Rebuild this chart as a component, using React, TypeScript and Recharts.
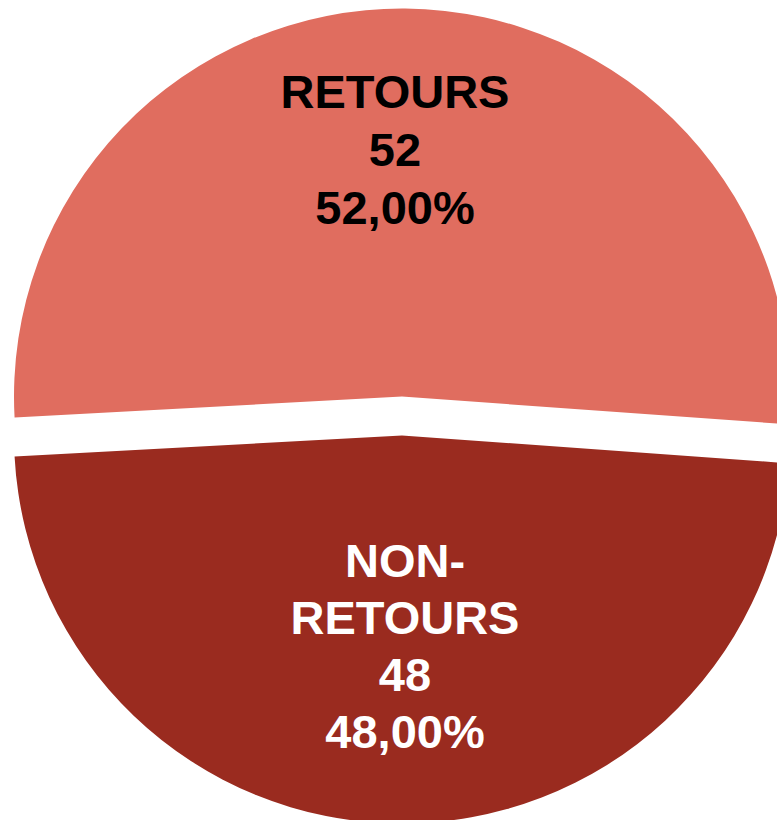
import React from 'react';
import { PieChart, Pie, Cell } from 'recharts';

const categories = ['RETOURS', 'NON-RETOURS'];
const values = [52, 48];
const sliceColors = ['#E06D5F', '#9A2B1F'];
const labelColors = ['#000000', '#FFFFFF'];

const data = categories.map((name, i) => ({ name, value: values[i] }));

const W = 777;
const H = 820;
const CX = 402;
const CY_TOP = 396.6;
const CY_BOTTOM = 435.5;
const R = 388;
const START = -4.1;

const splitName = (name: string): string[] => {
  const idx = name.indexOf('-');
  if (idx > 0 && idx < name.length - 1) return [name.slice(0, idx + 1), name.slice(idx + 1)];
  return [name];
};

const makeLabel = (visibleIndex: number) => (props: any) => {
  const { cx, cy, index, name, value, percent } = props;
  if (index !== visibleIndex) return null;
  const pct = (percent * 100).toFixed(2).replace('.', ',') + '%';
  const lines = [...splitName(String(name)), String(value), pct];
  const isTop = visibleIndex === 0;
  const x = isTop ? cx - 7 : cx + 3;
  const y0 = isTop ? cy - 289 : cy + 141;
  const step = isTop ? 58 : 57;
  return (
    <text
      x={x}
      y={y0}
      textAnchor="middle"
      fill={labelColors[visibleIndex]}
      fontFamily="'Liberation Sans', Arial, sans-serif"
      fontWeight="bold"
      fontSize={47}
    >
      {lines.map((l, i) => (
        <tspan key={i} x={x} y={y0 + i * step}>
          {l}
        </tspan>
      ))}
    </text>
  );
};

export default function App() {
  return (
    <div style={{ position: 'absolute', left: 0, top: 0, width: W, height: H, overflow: 'hidden', background: '#fff' }}>
      <PieChart width={W} height={H} margin={{ top: 0, right: 0, bottom: 0, left: 0 }}>
        <Pie
          data={data}
          dataKey="value"
          nameKey="name"
          cx={CX}
          cy={CY_TOP}
          outerRadius={R}
          innerRadius={0}
          startAngle={START}
          endAngle={START + 360}
          stroke="none"
          label={makeLabel(0)}
          labelLine={false}
          isAnimationActive={false}
        >
          {data.map((d, i) => (
            <Cell key={d.name} fill={i === 0 ? sliceColors[0] : 'transparent'} stroke="none" />
          ))}
        </Pie>
        <Pie
          data={data}
          dataKey="value"
          nameKey="name"
          cx={CX}
          cy={CY_BOTTOM}
          outerRadius={R}
          innerRadius={0}
          startAngle={START}
          endAngle={START + 360}
          stroke="none"
          label={makeLabel(1)}
          labelLine={false}
          isAnimationActive={false}
        >
          {data.map((d, i) => (
            <Cell key={d.name} fill={i === 1 ? sliceColors[1] : 'transparent'} stroke="none" />
          ))}
        </Pie>
      </PieChart>
    </div>
  );
}
